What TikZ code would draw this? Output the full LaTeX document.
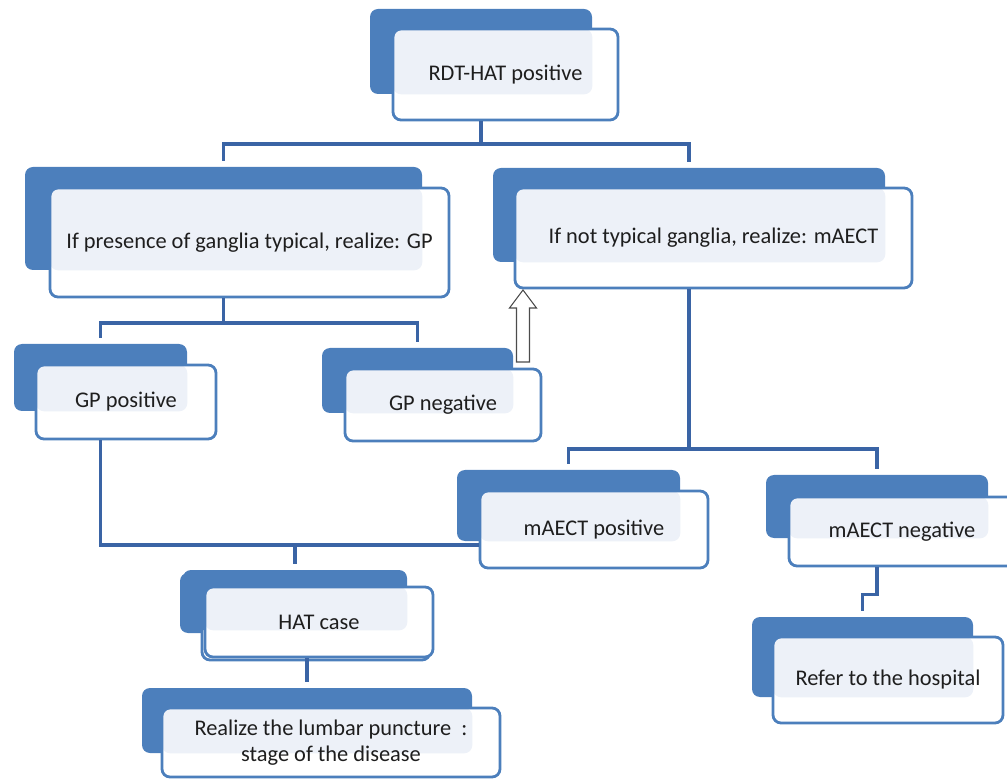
\documentclass[tikz,border=0pt]{standalone}
\usepackage{fontspec}
\setmainfont{Carlito}
\usetikzlibrary{fit}
\definecolor{tabblue}{RGB}{76,127,188}
\definecolor{linkblue}{RGB}{58,100,165}
\definecolor{pale}{RGB}{237,241,248}
\definecolor{inkgray}{RGB}{30,30,30}
\begin{document}
\begin{tikzpicture}[x=0.75pt, y=-0.75pt,
    tab/.style={rectangle, rounded corners=6pt, fill=tabblue, inner sep=0pt},
    card/.style={rectangle, rounded corners=6pt, draw=tabblue, line width=2.1pt, fill=white, inner sep=0pt,
        path picture={\fill[pale] (path picture bounding box.north west) rectangle (#1.south east);}},
    note/.style={text=inkgray, font=\fontsize{16.8}{20}\selectfont, align=center, inner sep=0pt},
    link/.style={draw=linkblue, line width=2.3pt, shorten >=4.5pt},
    hollow/.style={draw=black!70, line width=0.8pt, fill=white}]
                \useasboundingbox (0,0) rectangle (1007,780);
                % Nodes
                \node[tab, fit={(370,9) (592,94)}]  (t1)  {};
                \node[card=t1, fit={(393,29) (618,120)}, label={[note]center:RDT-HAT positive}]  (b1)  {};
                \node[tab, fit={(25,167) (422,270)}]  (t2)  {};
                \node[card=t2, fit={(50,188) (449,297)}, label={[note]center:If presence of ganglia typical, realize: GP}]  (b2)  {};
                \node[tab, fit={(493,168) (885,262)}]  (t3)  {};
                \node[card=t3, fit={(515,188) (912,288)}, label={[note]center:If not typical ganglia, realize: mAECT}]  (b3)  {};
                \node[tab, fit={(14,344) (187,411)}]  (t4)  {};
                \node[card=t4, fit={(36,365) (216,439)}, label={[note]center:GP positive}]  (b4)  {};
                \node[tab, fit={(322,348) (513,413)}]  (t5)  {};
                \node[card=t5, fit={(345,369) (541,441)}, label={[note]center:GP negative}]  (b5)  {};
                \node[tab, fit={(457,470) (680,541)}]  (t6)  {};
                \node[card=t6, fit={(480,491) (708,568)}, label={[note]center:mAECT positive}]  (b6)  {};
                \node[tab, fit={(766,475) (988,538)}]  (t7)  {};
                \node[card=t7, fit={(789,497) (1015,566)}, label={[note]center:mAECT negative}]  (b7)  {};
                \node[tab, fit={(752,617) (973,697)}]  (t8)  {};
                \node[card=t8, fit={(773,637) (1003,723)}, label={[note]center:Refer to the hospital}]  (b8)  {};
                % double outline of the HAT case
                \node[tab, fit={(180,573) (404,633)}]  (t9g)  {};
                \node[card=t9g, fit={(202,590) (430,660)}]  (b9g)  {};
                \node[tab, fit={(183,570) (407,630)}]  (t9)  {};
                \node[card=t9, fit={(205,587) (433,657)}, label={[note]center:HAT case}]  (b9)  {};
                \node[tab, fit={(142,688) (472,753)}]  (t10)  {};
                \node[card=t10, fit={(162,708) (500,777)}, label={[note]center:{Realize the lumbar puncture\ \ :\\stage of the disease}}]  (b10)  {};

                \coordinate (bus1) at (t1.south |- 0,144);
                \coordinate (bus2) at (t2.south |- 0,323);
                \coordinate (bus3) at (t3.south |- 0,449);
                \coordinate (join) at (t9.north |- 0,545);
                \coordinate (uptip) at (523,290);

                \draw[link, shorten >=0pt]  (t1.south |- b1.south) -- (bus1);
                \draw[link]  (bus1) -| (t2.north);
                \draw[link]  (bus1) -| (t3.north);

                \draw[link, shorten >=0pt]  (t2.south |- b2.south) -- (bus2);
                \draw[link]  (bus2) -| (t4.north);
                \draw[link]  (bus2) -| (t5.north);

                \draw[link, shorten >=0pt]  (t3.south |- b3.south) -- (bus3);
                \draw[link]  (bus3) -| (t6.north);
                \draw[link]  (bus3) -| (t7.north);

                \draw[link, shorten >=0pt]  (t4.south |- b4.south) |- (join);
                \draw[link, shorten >=0pt]  (join) -- (b6.west |- join);
                \draw[link]  (join) -- (t9.north);

                \draw[link]  (t7.south |- b7.south) -- ++(0,27) -| (t8.north);
                \draw[link]  (t10.north |- b9.south) -- (t10.north);

                \draw[hollow]  (uptip) -- ++(13.5,18) -- ++(-7,0) -- ++(0,54) -- ++(-13,0) -- ++(0,-54) -- ++(-7,0) -- cycle;
            \end{tikzpicture}
\end{document}
